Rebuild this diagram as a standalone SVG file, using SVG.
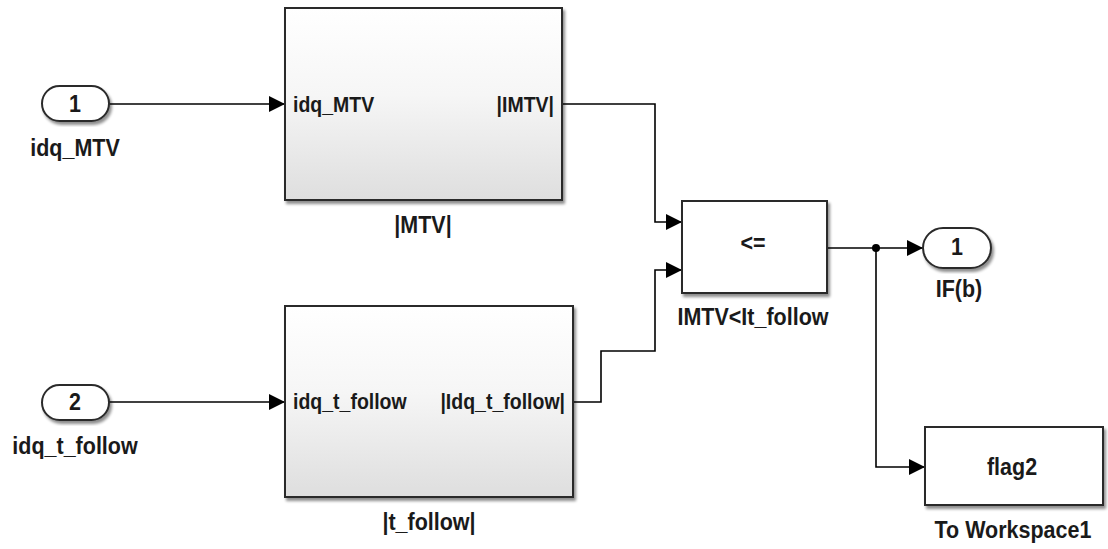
<svg xmlns="http://www.w3.org/2000/svg" width="1108" height="549" viewBox="0 0 1108 549">
  <style>
    text { font-family: "Liberation Sans", Arial, sans-serif; font-weight: bold; font-size: 21.5px; fill: #1a1a1a; }
    .port { font-size: 19.5px; }
    .mid { text-anchor: middle; }
    .end { text-anchor: end; }
    .blk { stroke: #2b2b2b; stroke-width: 2; }
    .wire { fill: none; stroke: #000; stroke-width: 1.6; }
  </style>
  <defs>
    <linearGradient id="subsysFill" x1="0" y1="0" x2="0" y2="1">
      <stop offset="0" stop-color="#ffffff"/>
      <stop offset="0.45" stop-color="#f6f6f6"/>
      <stop offset="1" stop-color="#dedede"/>
    </linearGradient>
    <filter id="shadow" x="-5%" y="-5%" width="115%" height="120%">
      <feGaussianBlur in="SourceAlpha" stdDeviation="1.5"/>
      <feOffset dx="2" dy="3" result="b"/>
      <feComponentTransfer><feFuncA type="linear" slope="0.45"/></feComponentTransfer>
      <feMerge><feMergeNode/><feMergeNode in="SourceGraphic"/></feMerge>
    </filter>
    <marker id="arrow" markerUnits="userSpaceOnUse" markerWidth="17" markerHeight="17" refX="16" refY="8" orient="auto">
      <path d="M0,0 L16,8 L0,16 z" fill="#000"/>
    </marker>
  </defs>

  <!-- signal lines -->
  <g id="connectors">
    <path class="wire" d="M109,104 H285" marker-end="url(#arrow)"/>
    <path class="wire" d="M109,402 H285" marker-end="url(#arrow)"/>
    <path class="wire" d="M562,104 H655 V222 H682" marker-end="url(#arrow)"/>
    <path class="wire" d="M573,402 H601 V351 H655 V270 H682" marker-end="url(#arrow)"/>
    <path class="wire" d="M827,248 H923" marker-end="url(#arrow)"/>
    <path class="wire" d="M876,248 V467 H925" marker-end="url(#arrow)"/>
    <circle cx="876" cy="248" r="4" fill="#000"/>
  </g>

  <!-- inport 1 -->
  <g id="inport1">
    <rect class="blk" x="42" y="86" width="67" height="35" rx="17.5" fill="#fff" filter="url(#shadow)"/>
    <text class="mid" transform="translate(75,112) scale(1,1.15)">1</text>
    <text class="mid" transform="translate(75,156) scale(1,1.15)">idq_MTV</text>
  </g>

  <!-- inport 2 -->
  <g id="inport2">
    <rect class="blk" x="42" y="385" width="67" height="35" rx="17.5" fill="#fff" filter="url(#shadow)"/>
    <text class="mid" transform="translate(75,410) scale(1,1.15)">2</text>
    <text class="mid" transform="translate(75,454) scale(1,1.15)">idq_t_follow</text>
  </g>

  <!-- subsystem |MTV| -->
  <g id="subsys_MTV">
    <rect class="blk" x="285" y="8" width="277" height="192" fill="url(#subsysFill)" filter="url(#shadow)"/>
    <text class="port" transform="translate(293,112) scale(1,1.15)">idq_MTV</text>
    <text class="port end" transform="translate(554,112) scale(1,1.15)">|IMTV|</text>
    <text class="mid" transform="translate(423,233) scale(1,1.15)">|MTV|</text>
  </g>

  <!-- subsystem |t_follow| -->
  <g id="subsys_t_follow">
    <rect class="blk" x="285" y="306" width="288" height="191" fill="url(#subsysFill)" filter="url(#shadow)"/>
    <text class="port" transform="translate(293,409) scale(1,1.15)">idq_t_follow</text>
    <text class="port end" transform="translate(565,409) scale(1,1.15)">|Idq_t_follow|</text>
    <text class="mid" transform="translate(429,530) scale(1,1.15)">|t_follow|</text>
  </g>

  <!-- relational operator -->
  <g id="compare">
    <rect class="blk" x="682" y="201" width="145" height="92" fill="#fff" filter="url(#shadow)"/>
    <text class="mid" transform="translate(753,251) scale(1,1.15)">&lt;=</text>
    <text class="mid" transform="translate(753,325) scale(1,1.15)">IMTV&lt;It_follow</text>
  </g>

  <!-- outport 1 -->
  <g id="outport1">
    <rect class="blk" x="923" y="228" width="68" height="40" rx="20" fill="#fff" filter="url(#shadow)"/>
    <text class="mid" transform="translate(957,255) scale(1,1.15)">1</text>
    <text class="mid" transform="translate(959,297) scale(1,1.15)">IF(b)</text>
  </g>

  <!-- to workspace -->
  <g id="toWorkspace1">
    <rect class="blk" x="925" y="427" width="178" height="78" fill="#fff" filter="url(#shadow)"/>
    <text class="mid" transform="translate(1012,475) scale(1,1.15)">flag2</text>
    <text class="mid" transform="translate(1013,538) scale(1,1.15)">To Workspace1</text>
  </g>
</svg>
